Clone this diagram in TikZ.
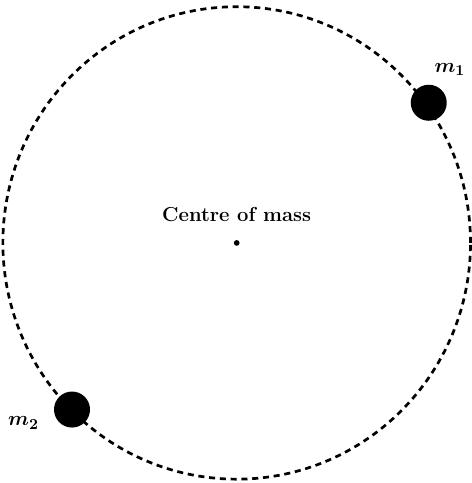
\documentclass[tikz,border=0pt]{standalone}
\usepackage{bm}
\begin{document}
\begin{tikzpicture}[
  orbit/.style={line width=1.6pt,dash pattern=on 3.6pt off 2.8pt},
  body/.style={circle,fill=black,minimum size=0.75cm,inner sep=0pt},
  lbl/.style={font=\large\bfseries},
  mlbl/.style={font=\fontsize{13}{15}\selectfont}]
  \useasboundingbox (-4.93,-5.0) rectangle (4.9,5.06);
  % Orbit
  \draw[orbit] (0,0) ellipse (4.87cm and 4.92cm);

  % Centre of mass
  \fill (0,0) circle (0.06cm);
  \node[lbl] (com) at (0,0.6) {Centre of mass};

  % Masses
  \node[body] (m1) at (4.0,2.92) {};
  \node[body] (m2) at (-3.43,-3.47) {};
  \node[mlbl] (l1) at (4.44,3.62) {$\bm{m_1}$};
  \node[mlbl] (l2) at (-4.44,-3.75) {$\bm{m_2}$};
\end{tikzpicture}
\end{document}
